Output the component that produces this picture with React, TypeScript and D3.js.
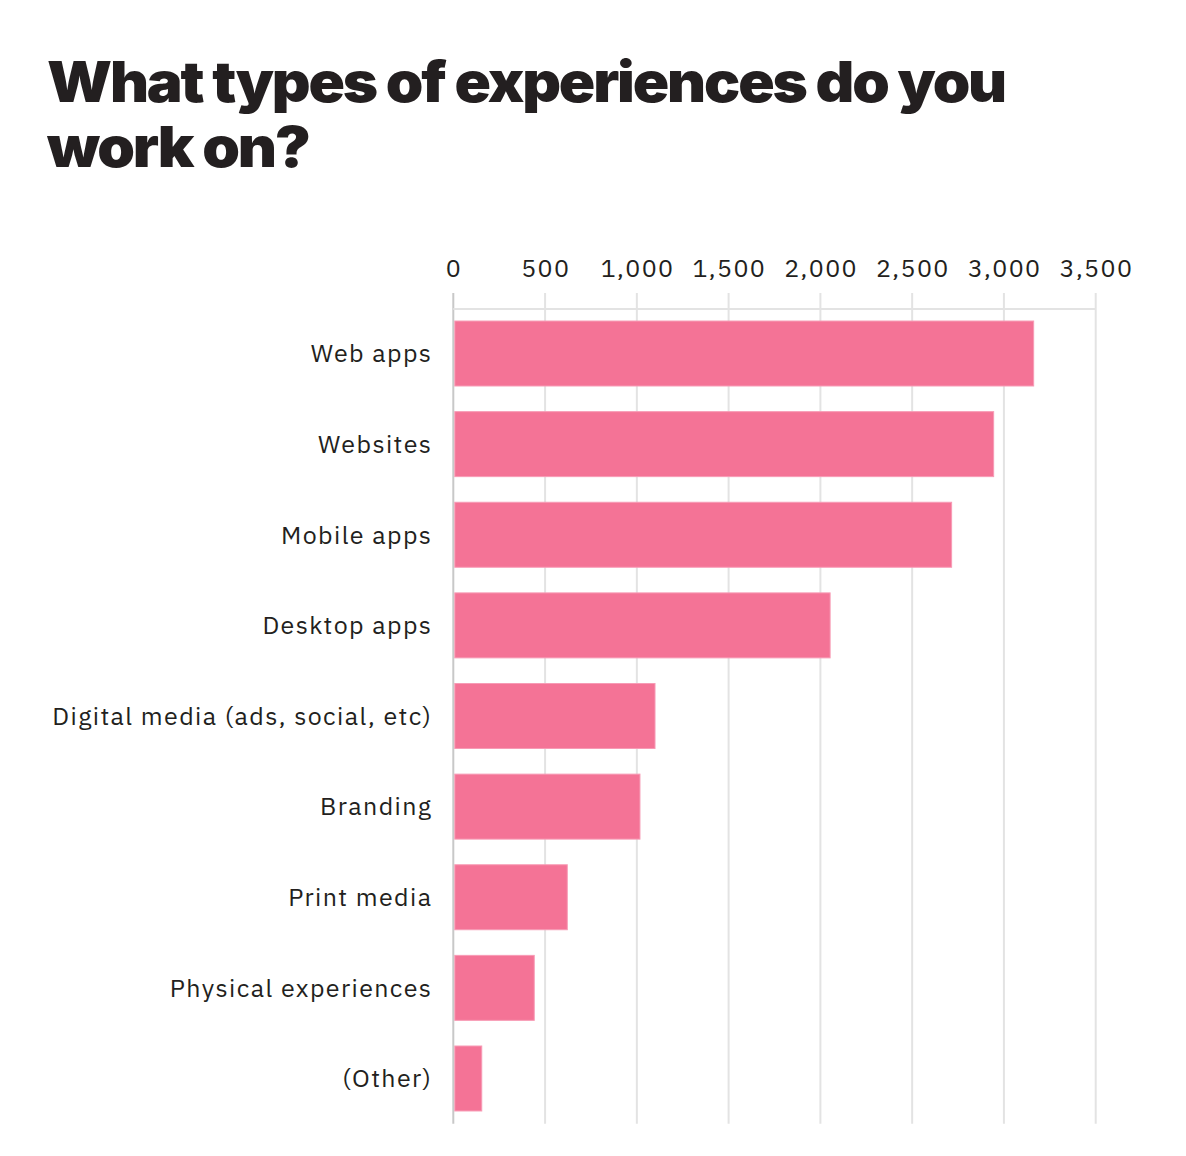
import React from "react";
import * as d3 from "d3";

const categories = [
  "Web apps",
  "Websites",
  "Mobile apps",
  "Desktop apps",
  "Digital media (ads, social, etc)",
  "Branding",
  "Print media",
  "Physical experiences",
  "(Other)",
];
const values = [3162, 2944, 2715, 2053, 1099, 1017, 621, 441, 155];
const tickValues = [0, 500, 1000, 1500, 2000, 2500, 3000, 3500];
const titleLines = ["What types of experiences do you", "work on?"];

const W = 1186;
const H = 1156;
const left = 453.3;
const right = 1095.7;
const top = 308.2;
const bottom = 1123.8;

export default function App() {
  const x = d3.scaleLinear().domain([0, 3500]).range([left, right]);
  const y = d3
    .scaleBand<string>()
    .domain(categories)
    .range([top, bottom])
    .paddingInner(0.283)
    .paddingOuter(0.1415);
  const fmt = d3.format(",");
  const labelFont = "'IBM Plex Sans', 'Noto Sans', 'Open Sans', sans-serif";
  const ls = 1.4;
  const fs = 25;
  return (
    <svg
      width={W}
      height={H}
      viewBox={`0 0 ${W} ${H}`}
      style={{ position: "absolute", left: 0, top: 0, background: "#fff" }}
    >
      <rect x={0} y={0} width={W} height={H} fill="#fff" />
      {titleLines.map((t, i) => (
        <text
          key={i}
          x={47}
          y={102 + i * 65}
          fontFamily="Inter, 'DejaVu Sans', sans-serif"
          fontWeight={900}
          fontSize={56}
          fill="#231f20"
          letterSpacing={-2}
          textLength={i === 0 ? 958 : 262}
          lengthAdjust="spacingAndGlyphs"
        >
          {t}
        </text>
      ))}
      {/* gridlines */}
      {tickValues.map((v) => (
        <line
          key={v}
          x1={x(v)}
          x2={x(v)}
          y1={293}
          y2={bottom}
          stroke={v === 0 ? "#c8c8c8" : "#e3e3e3"}
          strokeWidth={2}
        />
      ))}
      <line x1={left} x2={right} y1={309} y2={309} stroke="#e3e3e3" strokeWidth={2} />
      {/* tick labels */}
      {tickValues.map((v) => (
        <text
          key={"t" + v}
          x={x(v) + ls / 2}
          y={277}
          textAnchor="middle"
          fontFamily={labelFont}
          fontSize={fs}
          letterSpacing={ls}
          fill="#231f20"
        >
          {fmt(v)}
        </text>
      ))}
      {/* bars */}
      {categories.map((c, i) => (
        <rect
          key={c}
          x={x(0) + 1.5}
          y={y(c)!}
          width={x(values[i]) - x(0) - 1.5}
          height={y.bandwidth()}
          fill="#f47396"
          stroke="#f79bb5"
          strokeWidth={1}
        />
      ))}
      {/* category labels */}
      {categories.map((c) => (
        <text
          key={"l" + c}
          x={431 + ls}
          y={y(c)! + y.bandwidth() / 2}
          dy="0.35em"
          textAnchor="end"
          fontFamily={labelFont}
          fontSize={fs}
          letterSpacing={ls}
          fill="#231f20"
        >
          {c}
        </text>
      ))}
    </svg>
  );
}
